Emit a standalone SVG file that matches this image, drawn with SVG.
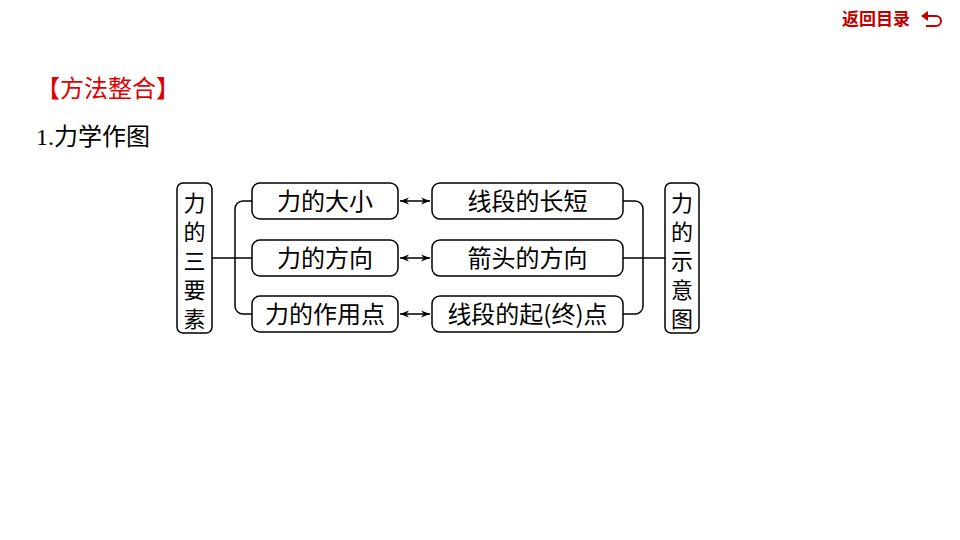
<svg xmlns="http://www.w3.org/2000/svg" width="960" height="540" viewBox="0 0 960 540">
<style>
.b{fill:#fff;stroke:#000;stroke-width:1.5}
.t{font-family:"Noto Sans CJK SC","Liberation Serif",sans-serif;font-size:24px;fill:#000;text-anchor:middle}
.v{font-size:22px}
.c{fill:none;stroke:#000;stroke-width:1.5}
</style>
<defs>
<marker id="a" viewBox="0 0 10 10" refX="10" refY="5" markerWidth="8" markerHeight="6" orient="auto-start-reverse"><path d="M0,1 L10,5 L0,9 L3,5z" fill="#000"/></marker>
</defs>
<rect width="960" height="540" fill="#fff"/>
<g id="back">
<text x="876" y="25" font-family="Noto Sans CJK SC,sans-serif" font-size="17" font-weight="bold" fill="#c00000" text-anchor="middle">返回目录</text>
<path d="M926,16 H936 a5,5 0 0 1 0,10 H926" fill="none" stroke="#c00000" stroke-width="2"/>
<path d="M921,16 l7,-5 v10z" fill="#c00000"/>
</g>
<text x="36" y="97" font-family="Noto Sans CJK SC,sans-serif" font-size="24" fill="#e00000">【方法整合】</text>
<text x="36" y="145" font-family="Liberation Serif,Noto Sans CJK SC,serif" font-size="24" fill="#000">1.<tspan font-family="Noto Sans CJK SC,sans-serif">力学作图</tspan></text>
<g id="connectors">
<path class="c" d="M212,258 H252 M252,201 H243 a8,8 0 0 0 -8,8 V306 a8,8 0 0 0 8,8 H252"/>
<path class="c" d="M623,258 H665 M623,201 H635 a8,8 0 0 1 8,8 V306 a8,8 0 0 1 -8,8 H623"/>
<line class="c" x1="400" y1="201" x2="430" y2="201" marker-start="url(#a)" marker-end="url(#a)"/>
<line class="c" x1="400" y1="258" x2="430" y2="258" marker-start="url(#a)" marker-end="url(#a)"/>
<line class="c" x1="400" y1="314" x2="430" y2="314" marker-start="url(#a)" marker-end="url(#a)"/>
</g>
<g id="n0"><rect class="b" x="177" y="183" width="35" height="150" rx="6"/><text class="t v"><tspan x="194.5" y="211">力</tspan><tspan x="194.5" y="240">的</tspan><tspan x="194.5" y="269">三</tspan><tspan x="194.5" y="298">要</tspan><tspan x="194.5" y="327">素</tspan></text></g>
<g id="n1"><rect class="b" x="252" y="183" width="146" height="36" rx="8"/><text class="t" x="325" y="210">力的大小</text></g>
<g id="n2"><rect class="b" x="252" y="240" width="146" height="36" rx="8"/><text class="t" x="325" y="267">力的方向</text></g>
<g id="n3"><rect class="b" x="252" y="296" width="146" height="36" rx="8"/><text class="t" x="325" y="323">力的作用点</text></g>
<g id="n4"><rect class="b" x="432" y="183" width="191" height="36" rx="8"/><text class="t" x="527.5" y="210">线段的长短</text></g>
<g id="n5"><rect class="b" x="432" y="240" width="191" height="36" rx="8"/><text class="t" x="527.5" y="267">箭头的方向</text></g>
<g id="n6"><rect class="b" x="432" y="296" width="191" height="36" rx="8"/><text class="t" x="527.5" y="323">线段的起(终)点</text></g>
<g id="n7"><rect class="b" x="665" y="183" width="34" height="150" rx="6"/><text class="t v"><tspan x="682" y="211">力</tspan><tspan x="682" y="240">的</tspan><tspan x="682" y="269">示</tspan><tspan x="682" y="298">意</tspan><tspan x="682" y="327">图</tspan></text></g>
</svg>
